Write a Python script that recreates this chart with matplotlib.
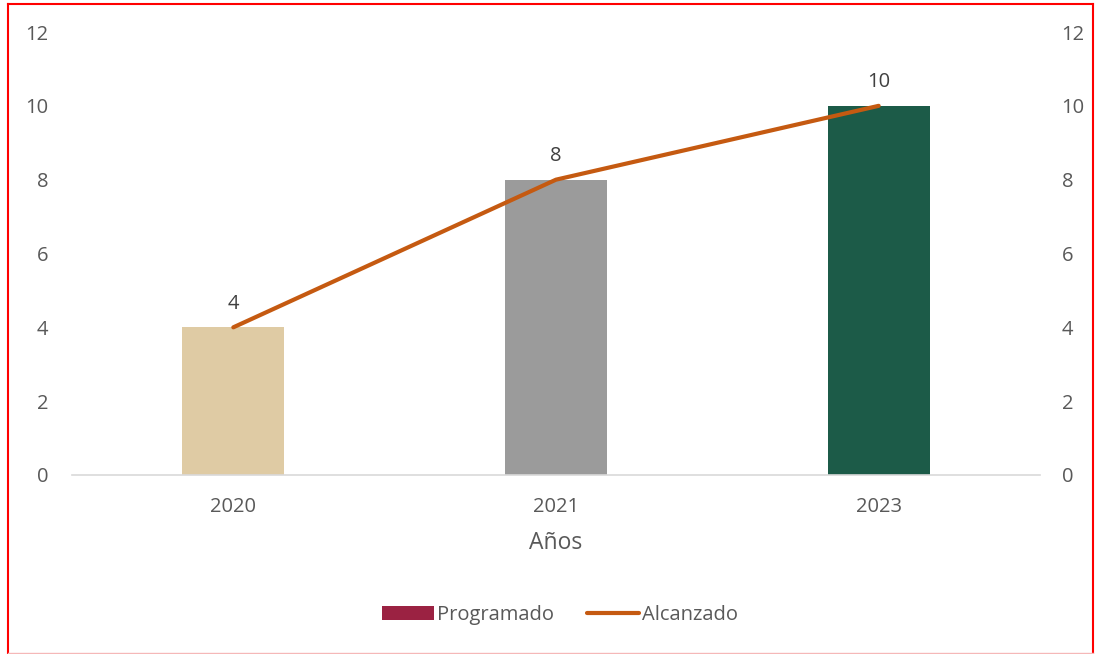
import matplotlib.pyplot as plt
from matplotlib.lines import Line2D
from matplotlib.patches import Patch

plt.rcParams['font.family'] = ['Open Sans', 'DejaVu Sans']

# Datos
anios = ['2020', '2021', '2023']
programado = [4, 8, 10]
alcanzado = [4, 8, 10]
colores_barras = ['#DFCBA4', '#9B9B9B', '#1C5B48']

texto = '#595959'
naranja = '#C55A11'

fig = plt.figure(figsize=(10.95, 6.54), dpi=100)
ax = fig.add_axes([72 / 1095, 1 - 475 / 654, 968 / 1095, 443 / 654])
ax2 = ax.twinx()

x = range(len(anios))
ax.bar(x, programado, width=0.316, color=colores_barras, zorder=2)
ax2.plot(x, alcanzado, color=naranja, linewidth=3, solid_capstyle='round', zorder=3)

# etiquetas de datos
for i, v in enumerate(alcanzado):
    ax2.annotate(str(v), (i, v), xytext=(0, 17), textcoords='offset points',
                 ha='center', va='center', fontsize=14.5, color='#404040')

for a in (ax, ax2):
    a.set_ylim(0, 12)
    a.set_yticks(range(0, 13, 2))
    for s in a.spines.values():
        s.set_visible(False)
    a.tick_params(length=0, labelsize=14.5, labelcolor=texto)
ax.tick_params(axis='y', pad=17)
ax2.tick_params(axis='y', pad=15.5)
ax.spines['bottom'].set_visible(True)
ax.spines['bottom'].set_color('#D9D9D9')
ax.spines['bottom'].set_linewidth(1.2)

ax.set_xlim(-0.5, 2.5)
ax.set_xticks(list(x))
ax.set_xticklabels(anios)
ax.tick_params(axis='x', pad=16)
ax.set_xlabel('Años', fontsize=16.5, color=texto, labelpad=10)

# Leyenda
handles = [Patch(facecolor='#9B2242', edgecolor='none', label='Programado'),
           Line2D([0], [0], color=naranja, linewidth=3, solid_capstyle='round', label='Alcanzado')]
leg = fig.legend(handles=handles, loc='center', bbox_to_anchor=(560 / 1095, 1 - 615 / 654),
                 ncol=2, frameon=False, fontsize=14.5, handlelength=2.6, handletextpad=0.15,
                 columnspacing=1.6)
for t in leg.get_texts():
    t.set_color(texto)

# Borde rojo
W, H = 1095, 654
fig.add_artist(Line2D([8 / W, 8 / W], [0, 1 - 4 / H], color='#FF0000', linewidth=1.5))
fig.add_artist(Line2D([8 / W, 1093 / W], [1 - 4 / H, 1 - 4 / H], color='#FF0000', linewidth=1.5))
fig.add_artist(Line2D([1093 / W, 1093 / W], [0, 1 - 4 / H], color='#FF0000', linewidth=1.5))
fig.add_artist(Line2D([8 / W, 1093 / W], [1.5 / H, 1.5 / H], color='#F5B8B8', linewidth=1))

fig.savefig('out.png', dpi=100)
